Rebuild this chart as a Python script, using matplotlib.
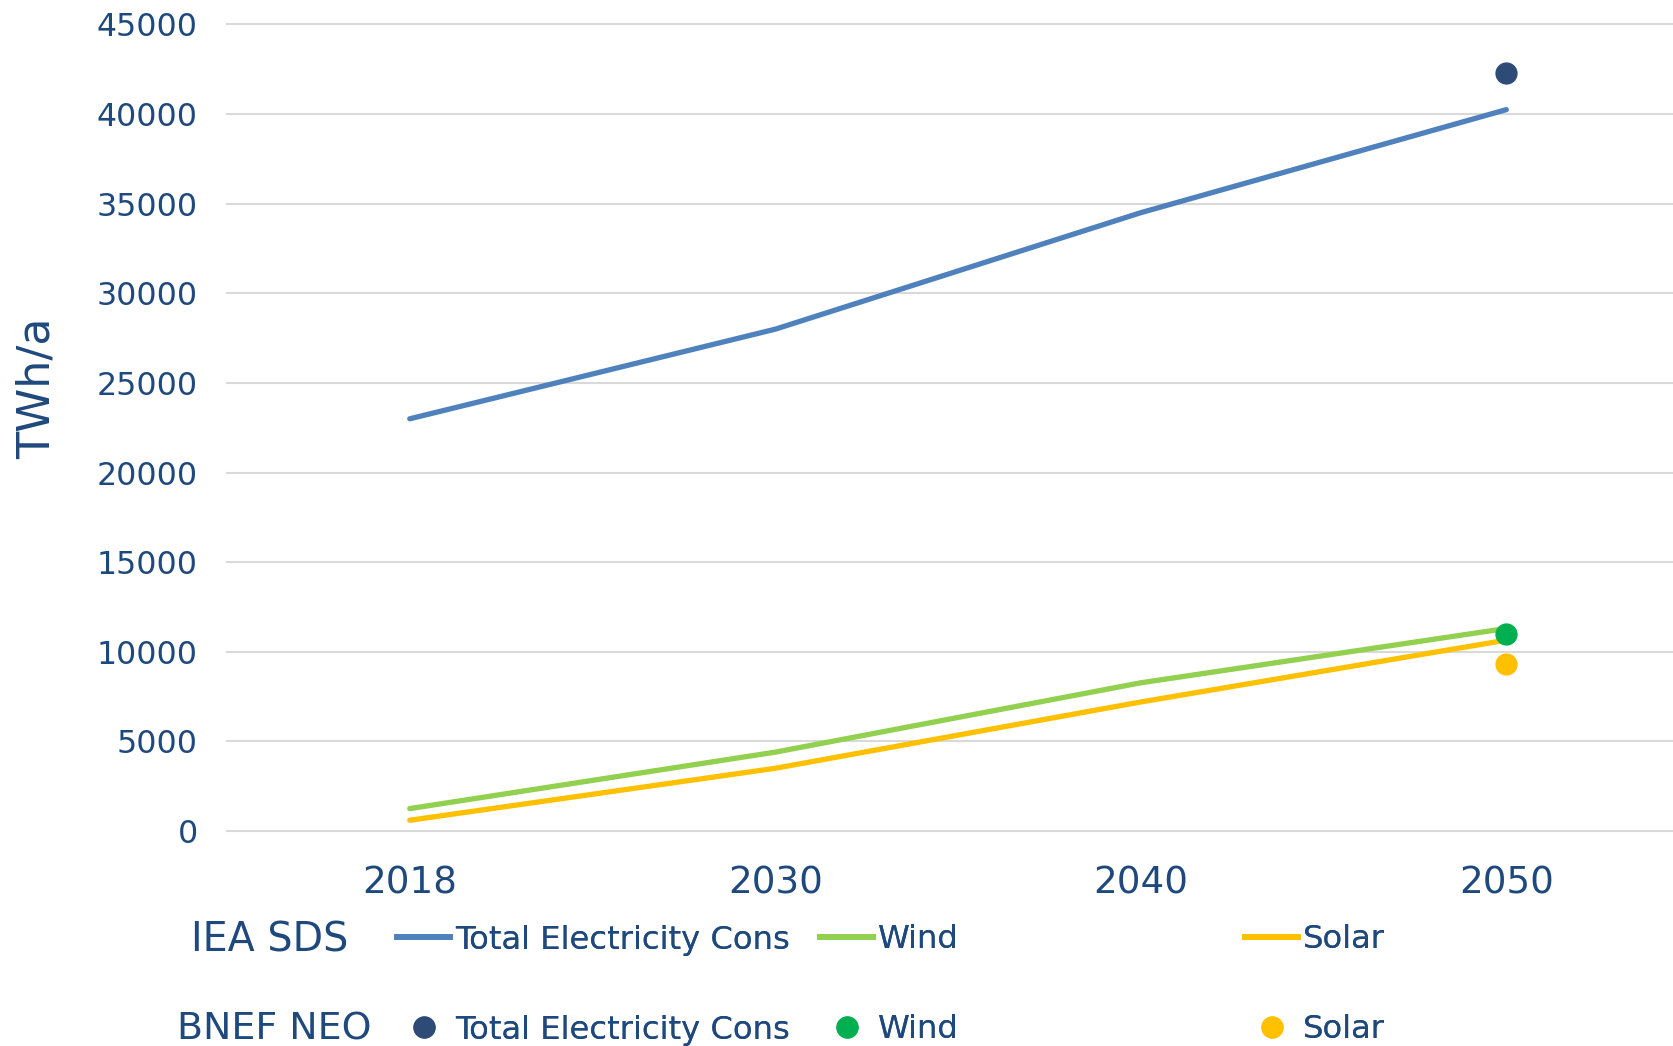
import matplotlib.pyplot as plt

# Daten
years = ['2018', '2030', '2040', '2050']
iea_total = [23000, 28000, 34500, 40250]
iea_wind = [1250, 4400, 8270, 11300]
iea_solar = [600, 3500, 7200, 10650]

bnef_year = ['2050']
bnef_total = [42300]
bnef_wind = [11000]
bnef_solar = [9300]

text_col = '#1F497D'
c_total = '#4F81BD'
c_wind = '#92D050'
c_solar = '#FFC000'
c_bnef_total = '#2E4B78'
c_bnef_wind = '#00B050'

plt.rcParams['font.family'] = ['DejaVu Sans']

W, H = 1673, 1046
fig = plt.figure(figsize=(W / 100, H / 100), dpi=100)
ax = fig.add_axes([227 / W, 1 - 831 / H, 1 - 227 / W, (831 - 24.5) / H])

x = range(len(years))
lw = 3.8
ax.plot(x, iea_total, color=c_total, lw=lw, solid_capstyle='round')
ax.plot(x, iea_wind, color=c_wind, lw=lw, solid_capstyle='round')
ax.plot(x, iea_solar, color=c_solar, lw=lw, solid_capstyle='round')

bx = [years.index(y) for y in bnef_year]
ms = 15
ax.plot(bx, bnef_total, 'o', color=c_bnef_total, ms=ms, zorder=5)
ax.plot(bx, bnef_wind, 'o', color=c_bnef_wind, ms=ms, zorder=5)
ax.plot(bx, bnef_solar, 'o', color=c_solar, ms=ms, zorder=5)

ax.set_xlim(-0.5, 3.456)
ax.set_ylim(0, 45000)
ax.set_yticks(range(0, 45001, 5000))
ax.set_xticks(list(x))
ax.set_xticklabels(years)
ax.tick_params(axis='y', length=0, pad=21, labelsize=22.8, labelcolor=text_col)
ax.tick_params(axis='x', length=0, pad=24, labelsize=26.8, labelcolor=text_col)
for s in ax.spines.values():
    s.set_visible(False)
ax.yaxis.grid(True, color='#D9D9D9', lw=1.5)
for gl in ax.get_ygridlines():
    gl.set_clip_on(False)
ax.set_axisbelow(True)

fig.text(37 / W, 1 - 388 / H, 'TWh/a', rotation=90, ha='center', va='center',
         fontsize=32, color=text_col)

# Legende
row_y = [940, 1030]
fig.text(191 / W, 1 - row_y[0] / H, 'IEA SDS', ha='left', va='center', fontsize=28.5, color=text_col)
fig.text(177 / W, 1 - row_y[1] / H, 'BNEF NEO', ha='left', va='center', fontsize=27.3, color=text_col)

key_x = [397, 820, 1245]
labels = ['Total Electricity Cons', 'Wind', 'Solar']
row1 = [
    plt.Line2D([], [], color=c_total, lw=4.2),
    plt.Line2D([], [], color=c_wind, lw=4.2),
    plt.Line2D([], [], color=c_solar, lw=4.2),
]
row2 = [
    plt.Line2D([], [], ls='', marker='o', color=c_bnef_total, ms=ms),
    plt.Line2D([], [], ls='', marker='o', color=c_bnef_wind, ms=ms),
    plt.Line2D([], [], ls='', marker='o', color=c_solar, ms=ms),
]
for handles, ypix in [(row1, row_y[0]), (row2, row_y[1])]:
    for h, lab, kx in zip(handles, labels, key_x):
        leg = fig.legend([h], [lab], loc='center left', bbox_to_anchor=(kx / W, 1 - ypix / H),
                         frameon=False, fontsize=23.2, handlelength=1.66, handletextpad=0.15,
                         borderpad=0, borderaxespad=0, labelcolor=text_col)
        fig.add_artist(leg)

fig.savefig('out.png', dpi=100)
